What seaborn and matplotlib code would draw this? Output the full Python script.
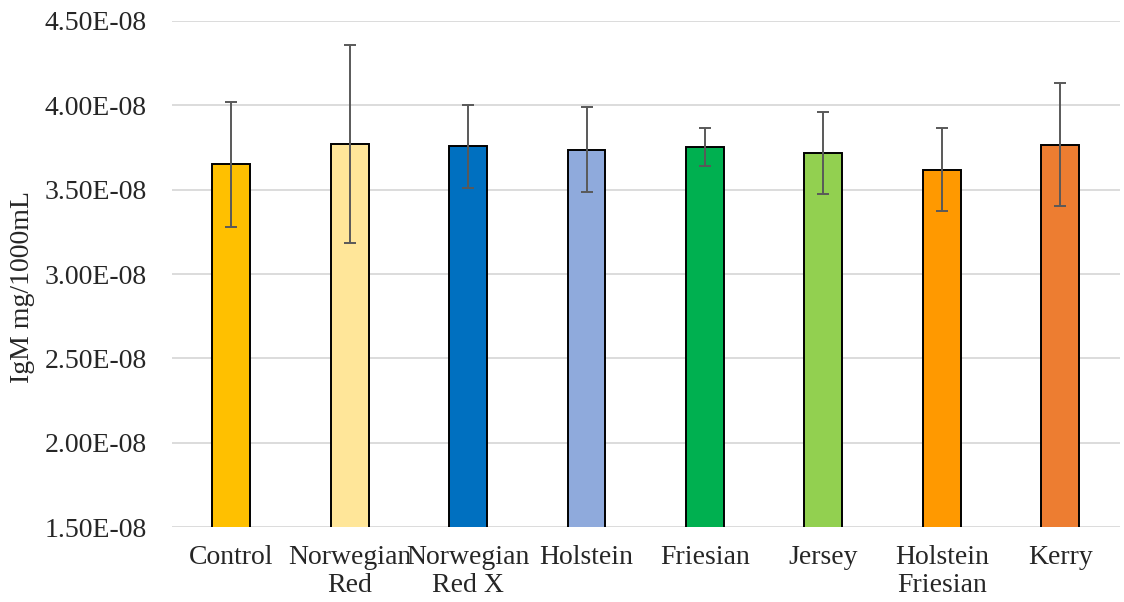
import matplotlib
matplotlib.use("Agg")
import matplotlib.pyplot as plt
import seaborn as sns
import pandas as pd
from matplotlib.ticker import FuncFormatter

# Data
breeds = ["Control", "Norwegian\nRed", "Norwegian\nRed X", "Holstein",
          "Friesian", "Jersey", "Holstein\nFriesian", "Kerry"]
igm = [3.649e-08, 3.768e-08, 3.756e-08, 3.736e-08,
       3.754e-08, 3.717e-08, 3.618e-08, 3.766e-08]
err = [0.372e-08, 0.587e-08, 0.244e-08, 0.253e-08,
       0.112e-08, 0.245e-08, 0.244e-08, 0.365e-08]
colors = ["#FFC000", "#FFE699", "#0070C0", "#8FAADC",
          "#00B050", "#92D050", "#FF9900", "#ED7D31"]

df = pd.DataFrame({"Breed": breeds, "IgM": igm, "err": err})

sns.set_style("white")
plt.rcParams["font.family"] = ["Liberation Serif", "DejaVu Serif"]

fig = plt.figure(figsize=(11.24, 6.02), dpi=100)
ax = fig.add_axes([0.153, 0.1241, 0.843, 0.8415])

sns.barplot(data=df, x="Breed", y="IgM", hue="Breed", palette=colors,
            legend=False, width=0.32, edgecolor="black", linewidth=1.4,
            saturation=1, errorbar=None, ax=ax, zorder=2)

# error bars on top of the bars, positions from the categorical axis
ax.errorbar(x=range(len(breeds)), y=df["IgM"], yerr=df["err"], fmt="none",
            ecolor="#595959", elinewidth=1.4, capsize=4.3, capthick=1.4, zorder=3)

ax.set_ylim(1.5e-08, 4.5e-08)
ax.set_yticks([1.5e-08 + i * 0.5e-08 for i in range(7)])
ax.yaxis.set_major_formatter(FuncFormatter(lambda v, p: f"{v:.2E}"))
ax.grid(axis="y", color="#d9d9d9", linewidth=1.3, zorder=0)
ax.set_axisbelow(True)
sns.despine(ax=ax, left=True, bottom=True, top=True, right=True)

ax.tick_params(axis="y", length=0, pad=18, labelsize=20)
ax.tick_params(axis="x", length=0, pad=13, labelsize=20)
for lbl in ax.get_xticklabels():
    lbl.set_linespacing(1.15)
ax.set_xlabel("")
ax.set_ylabel("IgM mg/1000mL", fontsize=20)
ax.yaxis.set_label_coords(-0.145, 0.474)
ax.set_xlim(-0.5, len(breeds) - 0.5)

plt.savefig("out.png", dpi=100)
plt.close()
